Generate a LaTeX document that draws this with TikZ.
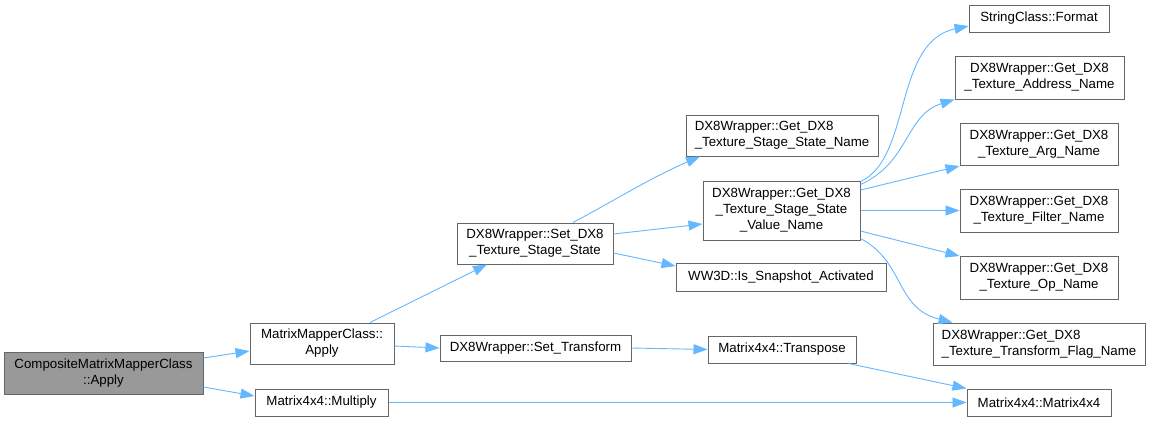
\documentclass[tikz,border=0pt]{standalone}
\usepackage{fontspec}
\setmainfont{Liberation Sans}
\usetikzlibrary{arrows.meta}
\definecolor{edgeblue}{HTML}{63B8FF}
\definecolor{boxgray}{HTML}{666666}
\definecolor{rootfill}{HTML}{999999}
\begin{document}
\begin{tikzpicture}[x=1pt,y=-1pt,
  box/.style={draw=boxgray,line width=1pt,fill=white,inner sep=0pt,align=center,
    font=\fontsize{13.3}{16}\selectfont},
  root/.style={box,fill=rootfill},
  edge/.style={draw=edgeblue,line width=0.9pt,-{Triangle[length=14pt,width=10pt]}}]
\useasboundingbox[fill=white] (0,0) rectangle (1150,421);
% nodes
\node[root,minimum width=199pt,minimum height=42pt] (cmmc) at (103.5,373) {CompositeMatrixMapperClass\\::Apply};
\node[box,minimum width=144pt,minimum height=41pt] (mmc) at (322,343.5) {MatrixMapperClass::\\Apply};
\node[box,minimum width=133pt,minimum height=27pt] (mul) at (321.5,402.5) {Matrix4x4::Multiply};
\node[box,minimum width=156pt,minimum height=41pt] (stss) at (535,243.5) {DX8Wrapper::Set\_DX8\\\_Texture\_Stage\_State};
\node[box,minimum width=191pt,minimum height=26pt] (stf) at (535.5,348) {DX8Wrapper::Set\_Transform};
\node[box,align=left,minimum width=192pt,minimum height=41pt] (gtsn) at (782,135.5) {DX8Wrapper::Get\_DX8\\\_Texture\_Stage\_State\_Name};
\node[box,minimum width=157pt,minimum height=59pt] (gtsvn) at (781.5,210.5) {DX8Wrapper::Get\_DX8\\\_Texture\_Stage\_State\\\_Value\_Name};
\node[box,minimum width=210pt,minimum height=28pt] (ww3d) at (781,277) {WW3D::Is\_Snapshot\_Activated};
\node[box,minimum width=148pt,minimum height=27pt] (tr) at (782,349.5) {Matrix4x4::Transpose};
\node[box,minimum width=140pt,minimum height=27pt] (fmt) at (1039,18.5) {StringClass::Format};
\node[box,minimum width=169pt,minimum height=43pt] (addr) at (1039.5,77.5) {DX8Wrapper::Get\_DX8\\\_Texture\_Address\_Name};
\node[box,minimum width=158pt,minimum height=42pt] (arg) at (1039,144) {DX8Wrapper::Get\_DX8\\\_Texture\_Arg\_Name};
\node[box,minimum width=158pt,minimum height=43pt] (filt) at (1039,210.5) {DX8Wrapper::Get\_DX8\\\_Texture\_Filter\_Name};
\node[box,minimum width=158pt,minimum height=43pt] (op) at (1039,277.5) {DX8Wrapper::Get\_DX8\\\_Texture\_Op\_Name};
\node[box,align=left,minimum width=212pt,minimum height=42pt] (tff) at (1039,344) {DX8Wrapper::Get\_DX8\\\_Texture\_Transform\_Flag\_Name};
\node[box,minimum width=144pt,minimum height=27pt] (m44) at (1039,402.5) {Matrix4x4::Matrix4x4};
% edges
\draw[edge] ([yshift=15pt]cmmc.east) -- ([yshift=-7.5pt]mmc.west);
\draw[edge] ([yshift=-14pt]cmmc.east) -- ([yshift=6.5pt]mul.west);
\draw[edge] ([xshift=48pt]mmc.north) -- ([xshift=-48pt]stss.south);
\draw[edge] ([yshift=-2.5pt]mmc.east) -- (stf.west);
\draw[edge] (mul.east) -- (m44.west);
\draw[edge] ([xshift=38pt]stss.north) .. controls (610,203) and (650,178) .. ([xshift=-82pt]gtsn.south);
\draw[edge] ([yshift=9.5pt]stss.east) -- ([yshift=-13.5pt]gtsvn.west);
\draw[edge] ([yshift=-9.5pt]stss.east) -- ([yshift=11pt]ww3d.west);
\draw[edge] (stf.east) -- (tr.west);
\draw[edge] ([xshift=-8pt]tr.south east) -- (m44.north west);
\draw[edge] ([yshift=-1pt]gtsvn.north east) .. controls (912,158) and (893,42) .. ([yshift=-7.5pt]fmt.west);
\draw[edge] ([yshift=-4pt]gtsvn.north east) .. controls (910,162) and (905,115) .. (addr.south west);
\draw[edge] ([yshift=20.5pt]gtsvn.east) -- ([yshift=-22pt]arg.west);
\draw[edge] (gtsvn.east) -- (filt.west);
\draw[edge] ([yshift=-20.5pt]gtsvn.east) -- ([yshift=21.5pt]op.west);
\draw[edge] ([yshift=2pt]gtsvn.south east) .. controls (905,262) and (895,308) .. ([xshift=20pt]tff.north west);
\end{tikzpicture}
\end{document}
